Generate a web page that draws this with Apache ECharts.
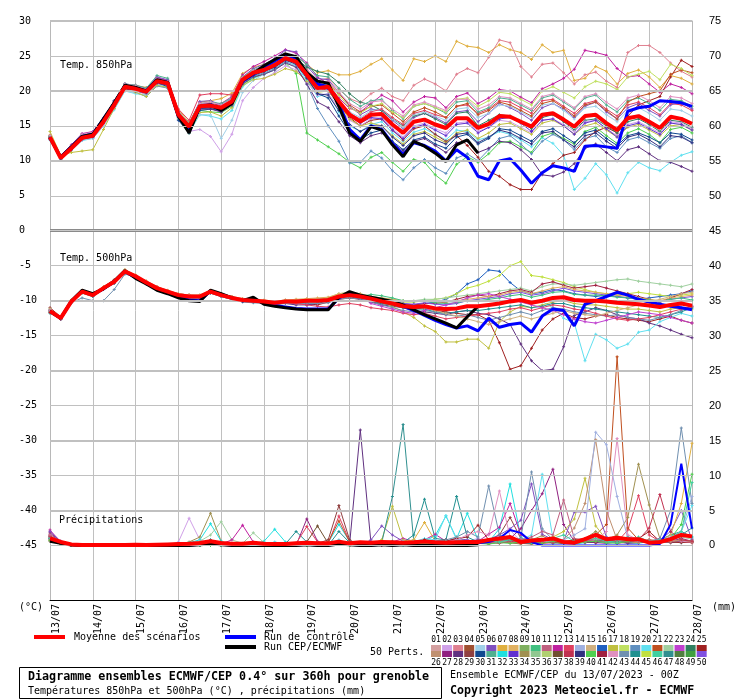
<!DOCTYPE html>
<html><head><meta charset="utf-8">
<script src="https://cdn.jsdelivr.net/npm/echarts@6/dist/echarts.min.js"></script>
<style>html,body{margin:0;padding:0;background:#fff}#c{width:740px;height:700px}</style>
</head><body><div id="c"></div>
<script>
const HOURS = [0,6,12,18,24,30,36,42,48,54,60,66,72,78,84,90,96,102,108,114,120,126,132,138,144,150,156,162,168,174,180,186,192,198,204,210,216,222,228,234,240,246,252,258,264,270,276,282,288,294,300,306,312,318,324,330,336,342,348,354,360];
const DAY_LABELS = ["13/07","14/07","15/07","16/07","17/07","18/07","19/07","20/07","21/07","22/07","23/07","24/07","25/07","26/07","27/07","28/07"];
const Y_LEFT_TICKS = [-45,-40,-35,-30,-25,-20,-15,-10,-5,0,5,10,15,20,25,30];
const Y_RIGHT_TICKS = [0,5,10,15,20,25,30,35,40,45,50,55,60,65,70,75];
const MEMBER_IDS = ["01","02","03","04","05","06","07","08","09","10","11","12","13","14","15","16","17","18","19","20","21","22","23","24","25","26","27","28","29","30","31","32","33","34","35","36","37","38","39","40","41","42","43","44","45","46","47","48","49","50"];
const PALETTE = ["#d4a0a0","#d0a0e8","#e08090","#a05030","#a0d0e8","#8050c0","#e0b040","#e0b060","#80b060","#40c080","#c06080","#c020a0","#e04060","#a0b0e0","#d0b080","#2060c0","#c0c040","#c0e060","#6090c0","#60e0f0","#c05020","#a0d0a0","#c040d0","#308060","#a02020",
"#c09070","#902080","#603080","#904040","#104890","#50b090","#20e0e0","#6030d0","#a09050","#90c890","#b0d070","#705030","#c03050","#303080","#50d050","#a02040","#e090c0","#7090b0","#209090","#c0e040","#40d0a0","#309090","#508040","#40a040","#8050e0"];

/* ---------- 850 hPa (°C) ---------- */
const T850_MEAN = [13.4,10.4,11.8,13.3,13.6,15.6,18.0,20.6,20.3,19.9,
 21.4,21.1,16.6,14.9,17.8,17.9,17.6,18.5,21.6,22.6,
 23.0,23.7,24.7,24.2,22.3,20.4,20.6,18.5,16.6,15.6,
 16.6,16.7,15.2,14.0,15.6,15.9,15.2,14.7,16.1,16.1,
 14.7,15.3,16.4,16.3,15.6,14.9,16.6,16.8,15.9,14.9,
 16.4,16.6,15.4,14.4,16.1,16.4,15.6,14.7,16.3,16.0,15.3];
const T850_CONTROL = [13.3,10.5,12.0,13.5,13.8,16.0,18.2,20.7,20.4,20.0,
 21.5,21.2,16.5,14.2,17.7,18.0,17.3,18.3,21.4,22.4,
 23.4,24.3,25.1,24.7,22.4,21.0,20.6,18.2,14.5,13.0,
 15.0,14.5,12.5,10.9,12.6,12.2,11.4,10.0,11.6,10.5,
 7.8,7.3,10.0,10.3,8.7,6.8,8.3,9.3,9.0,8.5,
 12.1,12.2,12.0,11.8,17.1,17.6,17.8,18.6,18.5,18.3,17.8];
const T850_OPER = [13.3,10.5,12.0,13.5,13.8,16.0,18.3,20.8,20.5,20.0,
 21.6,21.2,16.4,14.0,17.8,18.0,17.2,18.2,21.5,22.5,
 23.6,24.5,25.3,24.9,22.6,21.4,21.1,17.8,14.0,12.8,
 14.9,14.4,12.3,10.6,12.8,12.1,11.1,9.9,12.3,13.0,11.1];
const T850_P07 = [13.7,10.2,12.0,13.7,13.9,16.1,18.2,20.9,20.8,20.5,
 21.7,21.5,17.3,15.5,18.4,18.6,18.9,19.7,22.5,23.4,
 23.8,24.5,25.3,25.0,23.8,22.6,22.9,22.3,22.3,22.8,
 23.8,24.6,23.0,21.5,24.6,24.2,25.0,24.2,27.1,26.4,
 26.2,25.5,26.6,25.9,25.5,24.5,26.6,25.5,25.8,21.5,
 21.8,23.5,22.8,21.0,22.5,23.0,22.0,20.5,22.2,21.8,21.0];
const T850_P03 = [13.1,10.6,11.6,13.0,13.4,15.3,17.7,20.2,20.0,19.5,
 21.0,20.8,16.0,14.5,17.4,17.6,17.9,18.9,21.9,22.9,
 23.4,24.2,25.0,24.6,23.1,21.5,21.8,20.2,18.9,18.3,
 19.6,20.4,19.2,18.6,20.8,21.7,21.0,20.0,22.4,23.2,
 22.6,24.8,27.3,26.9,23.5,22.0,23.8,24.0,22.6,21.0,
 22.3,22.7,21.4,20.5,25.5,26.5,26.5,25.5,24.0,22.8,22.0];
const T850_P12 = [13.5,10.8,12.3,13.9,14.2,16.0,18.6,20.8,20.6,20.2,
 21.9,21.5,16.9,15.2,18.3,18.0,18.2,19.2,22.3,23.5,
 24.2,25.0,25.9,25.4,24.0,22.0,21.0,19.0,17.5,17.0,
 18.2,19.4,18.6,17.0,18.4,19.2,19.0,17.6,19.2,19.7,
 18.2,19.0,20.2,20.0,19.1,18.3,20.3,21.0,21.8,23.1,
 25.8,25.5,25.1,23.2,22.0,22.2,21.0,19.8,21.0,20.5,19.6];
const T850_P20 = [13.0,10.2,11.5,12.9,13.2,15.0,17.3,20.0,19.6,19.4,
 20.8,20.6,16.2,14.0,16.6,16.4,16.0,17.2,20.6,21.8,
 22.4,23.0,24.2,23.6,21.5,19.2,19.6,17.0,15.0,14.2,
 15.2,15.6,14.0,12.8,14.1,14.6,13.8,13.0,14.4,14.2,
 13.0,13.4,14.2,13.8,13.0,12.0,13.3,12.5,10.8,5.9,
 7.5,9.6,8.0,5.4,8.3,9.8,9.0,8.6,9.8,10.8,11.3];
const T850_P40 = [13.6,10.5,11.9,13.2,13.5,15.4,17.8,20.4,20.1,19.6,
 21.2,20.9,16.0,14.2,17.2,17.0,16.9,17.8,20.9,21.9,
 22.4,23.1,24.0,22.5,14.0,13.0,12.0,11.0,9.8,9.0,
 10.5,11.2,9.8,8.5,10.2,9.8,8.0,6.8,9.5,10.6,
 9.8,11.0,12.6,12.8,12.0,11.2,13.5,14.0,13.2,12.4,
 14.2,14.8,13.6,12.5,14.0,14.6,13.8,12.6,14.5,14.8,14.0];
const T850_P19 = [13.2,10.3,11.7,13.1,13.3,15.2,17.5,20.1,19.8,19.2,
 20.7,20.4,16.3,14.6,17.5,17.5,17.0,18.0,21.2,22.1,
 22.6,23.2,24.2,23.5,21.0,17.5,15.0,12.8,9.7,9.8,
 11.4,10.4,8.6,7.3,9.0,10.2,9.0,8.2,10.4,11.0,
 10.0,11.6,13.2,13.6,12.4,11.0,12.8,13.8,13.0,11.6,
 13.2,13.6,12.0,11.2,13.0,13.4,12.6,11.8,13.2,13.6,12.6];
const T850_P25 = [13.4,10.5,11.8,13.2,13.7,15.8,18.2,20.7,20.5,20.0,
 21.5,21.2,16.8,15.0,18.0,18.2,17.9,18.6,21.8,22.7,
 23.2,23.8,24.8,24.2,22.0,20.6,20.0,18.0,16.2,15.0,
 15.8,16.0,14.4,13.0,14.6,15.0,13.8,12.8,13.6,12.2,
 10.5,8.5,7.8,6.6,5.9,5.9,8.3,9.6,10.8,11.2,
 13.0,14.2,14.8,14.0,16.4,18.0,18.6,19.2,22.0,24.4,23.5];
const T850_P06 = [13.5,10.6,12.2,13.8,14.1,16.2,18.5,21.0,20.8,20.4,
 22.0,21.6,17.0,15.3,18.5,18.6,18.0,18.9,22.0,23.2,
 23.8,24.6,25.8,25.6,23.6,21.8,21.6,19.8,17.8,16.6,
 17.4,17.2,15.8,14.6,16.2,16.8,16.2,15.4,17.0,17.2,
 15.6,16.8,18.2,17.6,16.8,15.8,17.6,18.2,17.4,16.2,
 17.8,18.4,17.0,16.0,17.6,18.2,17.2,16.4,18.0,18.4,17.4];
const T850_P24 = [13.2,10.4,11.7,13.2,13.5,15.5,17.9,20.5,20.2,19.8,
 21.3,21.0,16.7,15.1,17.9,18.0,17.8,18.7,21.7,22.8,
 23.2,24.0,24.8,24.6,23.4,22.8,22.4,21.2,19.6,18.4,
 18.0,17.2,16.0,15.0,16.4,16.8,16.0,15.2,16.8,17.0,
 15.0,15.8,16.6,16.4,15.6,14.6,16.2,16.6,15.6,14.4,
 15.8,16.0,15.0,14.0,15.6,16.0,15.2,14.2,15.8,15.6,14.8];
const T850_P02 = [13.3,10.3,11.6,13.0,13.3,15.2,17.6,20.3,20.0,19.6,
 21.0,20.8,15.8,14.2,14.5,13.5,11.3,13.8,18.6,20.5,
 21.8,22.6,23.6,23.0,21.2,19.4,19.6,17.6,15.8,15.0,
 16.0,16.2,14.6,13.4,15.0,15.4,14.6,14.0,15.4,15.6,
 14.2,14.8,15.8,15.6,14.8,14.0,15.8,16.0,15.2,14.2,
 15.6,15.8,14.6,13.6,15.2,15.6,14.8,14.0,15.6,15.4,14.6];
const T850_P05 = [13.1,10.3,11.6,13.0,13.2,15.0,17.4,20.0,19.7,19.3,
 20.9,20.6,16.0,14.6,16.6,16.6,13.2,15.8,19.8,21.5,
 22.4,23.0,24.0,23.6,22.0,20.2,20.4,18.6,17.0,16.2,
 17.2,17.4,16.0,14.8,16.6,17.0,16.4,15.8,17.4,17.6,
 16.2,16.8,18.0,17.8,17.0,16.2,18.0,18.2,17.2,16.0,
 17.6,17.8,16.6,15.6,17.2,17.6,16.8,15.8,17.4,17.2,16.4];
const T850_P13 = [13.6,10.6,12.0,13.6,14.0,15.9,18.3,20.8,20.4,20.0,
 21.5,21.2,17.4,15.8,19.4,19.6,19.6,19.4,22.0,22.9,
 23.2,23.8,24.6,24.0,22.0,20.0,20.4,18.4,16.8,16.0,
 17.0,17.4,16.2,15.2,16.8,17.2,16.6,16.2,17.8,18.0,
 16.8,17.4,18.6,18.4,17.6,16.8,18.6,18.8,17.8,16.8,
 18.2,18.6,17.4,16.4,18.0,18.4,17.6,16.6,18.2,18.0,17.2];
const T850_P17 = [14.2,10.8,11.2,11.4,11.6,14.5,17.5,20.2,19.8,19.2,
 20.8,20.5,16.2,14.0,16.9,17.0,16.4,17.6,20.8,21.6,
 21.8,22.4,23.2,22.8,21.4,19.8,20.0,18.0,16.0,15.0,
 15.4,15.0,13.6,12.4,13.8,14.2,13.4,12.6,14.0,14.4,
 13.2,14.0,15.2,15.4,14.6,13.8,15.4,15.8,15.0,13.8,
 15.0,15.4,14.4,13.4,14.8,15.2,14.4,13.6,15.0,15.2,14.4];
const T850_P30 = [13.4,10.4,11.9,13.4,13.8,16.0,18.6,21.0,20.6,20.0,
 21.2,20.6,15.8,14.0,17.2,17.4,17.2,18.2,21.2,22.2,
 22.8,23.4,24.4,24.0,22.0,19.6,19.0,16.4,14.0,13.0,
 14.0,14.4,12.8,11.6,13.0,13.4,12.4,11.8,13.4,13.8,
 12.4,13.2,14.6,14.4,13.6,12.8,14.2,14.6,13.6,12.6,
 14.0,14.4,13.2,12.2,13.6,14.0,13.4,12.6,14.0,13.8,13.0];
const T850_P31 = [13.5,10.5,12.1,13.7,14.0,15.9,18.4,21.0,20.8,20.4,
 22.2,21.8,17.0,15.4,18.2,18.4,18.2,19.0,22.0,23.0,
 23.6,24.2,25.2,25.0,23.8,22.2,22.0,20.4,18.8,17.8,
 18.6,18.8,17.2,16.0,17.8,18.2,17.6,16.8,18.4,18.6,
 17.0,17.6,19.0,18.8,18.0,17.2,19.0,19.4,18.4,17.4,
 19.0,19.4,18.0,17.0,18.6,19.0,18.2,17.2,18.8,18.6,17.8];
const T850_P33 = [13.2,10.3,11.8,13.4,13.7,15.7,18.1,20.7,20.4,20.1,
 21.6,21.4,17.0,15.2,18.0,18.2,17.8,18.6,21.6,22.6,
 23.0,23.6,24.6,24.4,22.8,20.8,20.2,18.2,16.4,15.4,
 16.2,16.0,14.4,13.2,14.8,15.2,14.4,13.6,15.2,15.4,
 14.0,14.8,16.0,16.2,15.4,14.2,15.8,16.0,15.0,13.8,
 15.4,15.8,14.6,13.4,15.0,15.4,14.6,13.8,15.4,15.2,14.4];
const T850_P21 = [13.3,10.4,11.8,13.3,13.6,15.6,18.0,20.6,20.3,19.9,
 21.4,21.0,16.4,14.8,17.6,17.6,17.4,18.4,21.6,22.6,
 23.0,23.8,24.8,24.4,22.8,21.2,21.2,19.6,18.0,17.0,
 17.8,18.0,16.8,15.6,17.0,17.6,17.0,16.2,17.8,18.2,
 16.6,17.2,18.4,18.0,17.2,16.4,18.2,18.6,17.6,16.4,
 18.0,18.4,17.2,16.0,18.4,19.2,19.6,20.0,22.4,23.0,22.6];
const T850_P18 = [13.4,10.4,11.9,13.5,13.8,15.8,18.2,20.8,20.5,20.1,
 21.6,21.3,16.8,15.1,18.0,18.1,17.8,18.8,21.8,22.8,
 23.2,23.8,24.8,24.4,22.6,20.8,21.0,19.4,17.6,16.8,
 17.8,18.2,17.0,16.2,17.8,18.2,17.6,17.0,18.8,19.0,
 17.8,18.6,19.8,19.6,18.8,18.0,20.0,20.6,19.8,19.0,
 20.6,21.4,21.0,20.2,22.0,22.4,22.8,21.6,23.8,23.2,22.2];
const T850_P28 = [13.1,10.3,11.6,13.1,13.4,15.4,17.8,20.3,20.0,19.7,
 21.1,20.8,16.2,14.4,17.4,17.4,17.0,18.0,21.0,22.0,
 22.4,23.0,24.0,23.4,21.0,18.4,17.6,15.6,13.6,12.6,
 13.6,14.0,12.6,11.4,12.8,13.2,12.2,11.2,12.6,12.8,
 11.2,11.8,12.8,12.6,11.6,10.2,8.0,7.8,8.4,9.6,
 11.8,12.4,11.2,10.0,11.6,12.0,11.0,10.0,9.8,9.2,8.5];
const T850_P42 = [13.6,10.7,12.2,13.8,14.1,16.2,18.4,21.0,20.7,20.2,
 21.7,21.3,16.9,15.3,18.2,18.4,18.0,18.8,21.9,22.9,
 23.4,24.2,25.0,24.6,22.8,21.2,21.4,19.8,18.2,17.4,
 18.4,18.6,17.4,16.4,18.0,18.4,17.8,17.2,18.8,18.8,
 17.4,18.0,19.2,19.0,18.2,17.4,19.2,19.6,18.6,17.6,
 19.2,19.6,18.4,17.4,19.0,19.4,18.6,17.6,19.2,19.0,18.2];
const T850_P39 = [13.3,10.4,11.7,13.2,13.5,15.5,17.9,20.4,20.1,19.8,
 21.2,20.9,16.4,14.7,17.5,17.6,17.3,18.2,21.3,22.3,
 22.8,23.4,24.4,23.8,21.8,19.6,19.4,17.2,15.2,14.2,
 15.0,15.0,13.4,12.2,13.6,14.0,13.0,12.4,13.8,14.0,
 12.6,13.4,14.4,14.0,13.2,12.4,14.0,14.2,13.0,12.0,
 13.6,14.0,12.8,11.8,13.4,13.8,13.0,12.0,13.6,13.4,12.6];

/* ---------- 500 hPa (°C) ---------- */
const T500_MEAN = [-11.5,-12.5,-10.1,-8.7,-9.2,-8.2,-7.3,-5.8,-6.5,-7.4,
 -8.2,-8.7,-9.2,-9.4,-9.4,-8.7,-9.2,-9.6,-9.9,-10.0,
 -10.1,-10.3,-10.1,-10.1,-10.0,-10.0,-9.9,-9.4,-9.2,-9.4,
 -9.7,-10.1,-10.4,-10.8,-10.9,-10.8,-11.1,-11.2,-11.1,-10.8,
 -10.8,-10.6,-10.4,-10.1,-9.9,-10.3,-10.0,-9.6,-9.5,-9.9,
 -10.0,-10.0,-10.1,-10.3,-10.4,-10.5,-10.7,-10.9,-10.6,-10.4,-10.7];
const T500_CONTROL = [-11.5,-12.5,-10.1,-8.6,-9.1,-8.3,-7.3,-5.8,-6.7,-7.5,
 -8.4,-8.9,-9.5,-9.9,-10.0,-8.6,-9.1,-9.6,-10.0,-9.7,
 -10.4,-10.7,-10.9,-11.1,-11.2,-11.2,-11.2,-9.6,-8.9,-9.3,
 -9.6,-9.9,-10.2,-10.8,-11.4,-12.1,-12.8,-13.4,-13.9,-13.6,
 -14.3,-12.5,-13.8,-13.4,-13.2,-14.5,-12.2,-11.2,-11.4,-13.6,
 -10.5,-10.0,-9.4,-8.8,-9.2,-9.8,-10.2,-10.5,-10.8,-11.0,-11.3];
const T500_OPER = [-11.5,-12.5,-10.0,-8.5,-9.0,-8.3,-7.2,-5.7,-6.8,-7.6,
 -8.5,-9.0,-9.6,-10.0,-10.1,-8.5,-9.0,-9.6,-10.0,-9.5,
 -10.5,-10.8,-11.0,-11.2,-11.3,-11.3,-11.3,-9.5,-8.7,-9.2,
 -9.5,-9.8,-10.1,-10.6,-11.3,-12.0,-12.6,-13.2,-13.9,-12.3,-10.8];
const T500_P25 = [-11.0,-12.3,-10.0,-8.8,-9.0,-8.0,-7.0,-5.6,-6.4,-7.2,
 -8.0,-8.6,-9.0,-9.2,-9.3,-8.6,-9.0,-9.4,-9.8,-9.9,
 -10.0,-10.2,-10.0,-10.2,-10.4,-10.6,-10.2,-9.8,-9.6,-9.8,
 -10.2,-10.4,-10.6,-10.8,-11.2,-11.0,-11.4,-11.6,-11.8,-12.0,
 -12.0,-12.8,-16.0,-19.8,-19.3,-16.8,-14.2,-12.6,-11.8,-12.4,
 -12.6,-12.2,-12.0,-12.4,-12.6,-12.8,-13.0,-12.6,-12.2,-12.8,-13.2];
const T500_P28 = [-11.6,-12.7,-10.3,-8.8,-9.3,-8.4,-7.5,-6.0,-6.6,-7.5,
 -8.3,-8.8,-9.4,-9.6,-9.6,-8.9,-9.4,-9.8,-10.1,-10.2,
 -10.3,-10.4,-10.4,-10.6,-10.6,-10.4,-10.0,-9.6,-9.4,-9.8,
 -10.2,-10.6,-10.8,-11.0,-11.4,-11.6,-11.8,-12.0,-11.6,-11.4,
 -11.8,-12.0,-12.6,-13.4,-16.2,-18.6,-20.0,-19.8,-16.6,-12.1,
 -11.6,-11.0,-11.4,-12.0,-12.4,-12.6,-13.2,-13.6,-14.2,-14.8,-15.3];
const T500_P20 = [-11.2,-12.4,-10.2,-8.9,-9.4,-8.4,-7.4,-6.0,-6.6,-7.5,
 -8.3,-8.8,-9.3,-9.5,-9.5,-8.8,-9.3,-9.7,-10.0,-10.1,
 -10.2,-10.4,-10.2,-10.2,-10.1,-10.1,-10.0,-9.5,-9.3,-9.5,
 -10.0,-10.2,-10.5,-10.9,-11.0,-10.9,-11.2,-11.3,-11.2,-10.9,
 -10.9,-10.7,-10.5,-10.2,-10.0,-10.4,-10.1,-11.0,-12.5,-13.2,
 -18.6,-14.8,-15.6,-16.8,-16.2,-14.5,-14.2,-13.0,-12.4,-11.8,-12.2];
const T500_P17 = [-11.4,-12.5,-10.0,-8.6,-9.1,-8.2,-7.2,-5.7,-6.4,-7.3,
 -8.1,-8.6,-9.1,-9.3,-9.3,-8.6,-9.1,-9.5,-9.8,-9.9,
 -10.0,-10.2,-10.0,-10.0,-9.9,-9.9,-9.8,-9.3,-9.1,-9.3,
 -9.8,-10.2,-10.8,-11.6,-12.4,-13.6,-14.4,-15.9,-15.9,-15.5,
 -15.5,-16.8,-13.0,-11.6,-10.8,-11.0,-10.6,-10.2,-10.0,-10.4,
 -10.6,-10.6,-10.8,-11.0,-11.2,-11.2,-11.4,-11.6,-11.2,-11.0,-11.2];
const T500_P16 = [-11.6,-12.6,-10.2,-8.8,-9.3,-8.3,-7.4,-5.9,-6.6,-7.5,
 -8.3,-8.8,-9.3,-9.5,-9.5,-8.8,-9.3,-9.7,-10.0,-10.1,
 -10.2,-10.4,-10.2,-10.2,-10.0,-10.0,-9.9,-9.4,-9.2,-9.4,
 -9.8,-10.0,-10.2,-10.4,-10.6,-10.4,-10.2,-9.8,-9.0,-7.6,
 -7.0,-5.6,-5.8,-7.4,-8.6,-9.0,-8.8,-8.4,-8.6,-9.0,
 -9.2,-9.4,-9.2,-9.4,-9.6,-9.8,-9.6,-9.4,-9.2,-9.0,-8.6];
const T500_P45 = [-11.3,-12.4,-10.0,-8.6,-9.1,-8.1,-7.2,-5.6,-6.4,-7.2,
 -8.1,-8.6,-9.1,-9.3,-9.3,-8.6,-9.1,-9.5,-9.8,-9.9,
 -10.0,-10.2,-10.0,-10.0,-9.9,-9.8,-9.6,-9.2,-9.0,-9.2,
 -9.6,-9.8,-10.0,-10.2,-10.2,-10.0,-9.8,-9.6,-9.0,-8.2,
 -7.8,-7.2,-6.4,-5.0,-4.4,-6.4,-6.6,-7.0,-7.4,-8.0,
 -8.4,-8.8,-9.0,-9.2,-9.0,-8.8,-9.0,-9.2,-9.4,-9.2,-9.0];
const T500_P22 = [-11.5,-12.4,-10.1,-8.7,-9.2,-8.2,-7.3,-5.8,-6.5,-7.4,
 -8.2,-8.7,-9.1,-9.3,-9.3,-8.6,-9.1,-9.5,-9.8,-9.9,
 -10.0,-10.1,-9.9,-9.9,-9.8,-9.7,-9.6,-9.0,-8.8,-9.0,
 -9.4,-9.6,-9.8,-10.0,-10.0,-9.8,-9.8,-9.6,-9.4,-9.2,
 -9.0,-8.8,-8.6,-8.4,-8.2,-8.6,-8.0,-7.6,-7.6,-7.8,
 -7.6,-7.4,-7.2,-7.0,-6.9,-7.2,-7.4,-7.6,-7.8,-8.0,-7.6];
const T500_P41 = [-11.6,-12.6,-10.2,-8.8,-9.3,-8.3,-7.4,-5.9,-6.6,-7.5,
 -8.3,-8.8,-9.3,-9.5,-9.5,-8.8,-9.2,-9.7,-10.0,-10.0,
 -10.1,-10.3,-10.1,-10.1,-10.0,-9.9,-9.8,-9.4,-9.2,-9.4,
 -9.8,-10.0,-10.2,-10.5,-10.6,-10.4,-10.4,-10.2,-9.8,-9.4,
 -9.2,-9.4,-9.0,-8.6,-8.4,-8.8,-7.6,-7.3,-7.8,-8.2,
 -8.0,-7.8,-8.2,-8.6,-9.0,-9.4,-9.8,-10.2,-9.6,-9.0,-8.4];
const T500_P44 = [-11.8,-12.6,-10.3,-8.9,-9.4,-8.4,-7.5,-6.0,-6.7,-7.6,
 -8.4,-8.9,-9.4,-9.6,-9.6,-8.9,-9.4,-9.8,-10.1,-10.2,
 -10.3,-10.5,-10.3,-10.3,-10.2,-10.2,-10.1,-9.6,-9.4,-9.6,
 -10.0,-10.4,-10.6,-11.0,-11.2,-11.2,-11.6,-11.8,-11.6,-11.4,
 -11.4,-11.2,-11.0,-10.8,-10.6,-11.0,-10.8,-10.4,-10.4,-10.8,
 -11.0,-11.2,-11.4,-11.6,-11.8,-12.0,-12.2,-12.4,-12.0,-11.6,-11.0];
const T500_P50 = [-11.3,-12.3,-10.0,-8.6,-9.1,-8.1,-7.2,-5.7,-6.4,-7.3,
 -8.1,-8.6,-9.1,-9.3,-9.3,-8.6,-9.1,-9.5,-9.8,-9.9,
 -10.0,-10.2,-10.0,-10.0,-9.9,-9.9,-9.8,-9.3,-9.1,-9.3,
 -9.7,-9.9,-10.1,-10.4,-10.5,-10.3,-10.5,-10.6,-10.4,-10.0,
 -9.8,-9.6,-9.4,-9.0,-8.8,-9.2,-9.0,-8.6,-8.2,-8.6,
 -8.8,-9.0,-9.2,-9.4,-9.6,-9.8,-10.0,-10.2,-9.8,-9.6,-9.4];
const T500_P43 = [-11.4,-12.4,-10.3,-9.6,-10.0,-10.0,-8.4,-6.2,-6.6,-7.6,
 -8.4,-8.9,-9.4,-9.6,-9.6,-8.9,-9.4,-9.8,-10.2,-10.3,
 -10.4,-10.6,-10.4,-10.4,-10.4,-10.4,-10.3,-9.8,-9.6,-9.8,
 -10.2,-10.6,-11.0,-11.4,-11.6,-11.4,-11.6,-12.0,-12.2,-12.0,
 -12.4,-12.8,-12.4,-12.0,-11.6,-12.0,-11.4,-11.0,-11.2,-11.6,
 -11.8,-12.0,-12.2,-12.0,-12.4,-12.6,-12.8,-12.4,-12.0,-11.4,-10.8];
const T500_P13 = [-11.7,-12.6,-10.2,-8.8,-9.3,-8.3,-7.4,-5.9,-6.6,-7.5,
 -8.3,-8.8,-9.3,-9.5,-9.5,-8.8,-9.3,-9.7,-10.0,-10.1,
 -10.2,-10.4,-10.2,-10.4,-10.6,-10.8,-10.9,-10.6,-10.4,-10.6,
 -11.0,-11.2,-11.4,-11.8,-12.0,-11.8,-12.2,-12.6,-12.4,-12.2,
 -12.0,-11.8,-11.6,-11.2,-11.0,-11.4,-11.0,-10.6,-10.8,-11.2,
 -11.4,-11.8,-12.2,-12.6,-12.8,-12.6,-12.4,-12.0,-11.6,-11.2,-10.8];
const T500_P08 = [-11.2,-12.3,-9.9,-8.5,-9.0,-8.0,-7.1,-5.6,-6.3,-7.2,
 -8.0,-8.5,-9.0,-9.2,-9.2,-8.5,-9.0,-9.4,-9.7,-9.8,
 -9.9,-10.1,-9.9,-9.8,-9.7,-9.6,-9.5,-9.0,-8.8,-9.0,
 -9.4,-9.6,-9.8,-10.0,-10.1,-10.0,-10.2,-10.2,-10.0,-9.8,
 -9.6,-9.4,-9.2,-8.8,-8.6,-9.0,-8.6,-8.2,-8.0,-8.4,
 -8.6,-8.8,-9.0,-9.2,-9.4,-9.6,-9.8,-10.0,-9.6,-9.4,-9.2];
const T500_P10 = [-11.6,-12.5,-10.1,-8.7,-9.2,-8.2,-7.3,-5.8,-6.5,-7.4,
 -8.2,-8.7,-9.2,-9.4,-9.4,-8.7,-9.2,-9.6,-9.9,-10.0,
 -10.1,-10.3,-10.1,-10.1,-10.0,-10.0,-9.9,-9.4,-9.2,-9.4,
 -9.1,-9.3,-9.6,-10.0,-10.1,-10.0,-10.3,-10.4,-10.3,-10.0,
 -10.0,-9.8,-9.6,-9.3,-9.1,-9.5,-9.2,-8.8,-8.7,-9.1,
 -9.2,-9.2,-9.3,-9.5,-9.6,-9.7,-9.9,-10.1,-9.8,-9.6,-9.9];
const T500_P23 = [-11.4,-12.4,-10.1,-8.7,-9.2,-8.2,-7.3,-5.8,-6.5,-7.4,
 -8.2,-8.7,-9.2,-9.4,-9.4,-8.7,-9.2,-9.6,-9.9,-10.0,
 -10.1,-10.3,-10.1,-10.1,-10.0,-10.0,-9.9,-9.4,-9.2,-9.4,
 -10.4,-10.8,-11.2,-11.6,-11.8,-11.4,-11.0,-10.6,-10.2,-9.6,
 -9.2,-9.0,-9.4,-9.8,-10.2,-10.6,-11.0,-11.4,-12.0,-12.6,
 -13.0,-13.2,-12.8,-12.4,-12.0,-11.6,-11.8,-12.0,-12.4,-12.8,-13.2];
const T500_P15 = [-11.5,-12.5,-10.0,-8.6,-9.1,-8.1,-7.2,-5.7,-6.4,-7.3,
 -8.1,-8.6,-9.0,-9.2,-9.2,-8.6,-9.1,-9.5,-9.8,-9.9,
 -10.0,-10.2,-10.0,-10.0,-9.9,-9.9,-9.8,-9.3,-9.1,-9.3,
 -9.8,-10.0,-10.2,-10.6,-10.8,-11.0,-11.4,-11.8,-12.2,-12.6,
 -13.0,-13.4,-13.0,-12.6,-12.2,-12.6,-12.2,-11.8,-11.4,-11.8,
 -12.0,-12.2,-11.8,-11.4,-11.0,-10.6,-10.2,-9.8,-9.4,-9.0,-8.8];

/* ---------- Precipitation (mm) ---------- */
const PR_MEAN = [1.0,0.5,0.15,0.05,0.05,0.05,0.05,0.05,0.1,0.05,
 0.1,0.15,0.2,0.25,0.35,0.6,0.35,0.25,0.25,0.4,
 0.25,0.2,0.2,0.3,0.4,0.3,0.3,0.55,0.3,0.45,
 0.4,0.5,0.45,0.4,0.45,0.55,0.45,0.4,0.45,0.5,
 0.5,0.8,1.0,1.2,0.5,0.7,0.8,1.0,0.5,0.4,
 0.9,1.5,0.9,1.1,0.9,0.9,0.4,0.5,0.9,1.5,1.3];
const PR_CONTROL = [0.7,0.3,0.05,0,0,0,0,0,0,0,
 0,0,0,0,0.1,0.2,0.1,0,0,0,
 0,0,0,0,0.1,0,0,0.2,0.1,0,
 0,0.1,0,0.1,0,0,0,0.3,0.2,0.5,
 0.3,0.5,1.0,2.2,1.8,0.5,0,0,0,0,
 0,0,0,0,0,0,0,0.2,3.0,11.7,2.4];
const PR_OPER = [0.6,0.3,0.05,0,0,0,0,0,0,0,
 0,0,0,0,0.1,0.2,0.1,0,0,0,
 0,0,0,0,0.1,0,0,0.2,0.1,0,
 0,0.1,0,0.1,0,0,0,0,0,0,0.1];
const PR_P02 = [1.5,0.4,0,0,0,0,0,0,0,0, 0,0,0.5,3.9,0.8,0.3,0.2,0,0,0, 0,0,0,0,0.3,0.2,0,0.5,0.2,0, 0,0.2,0.4,0.3,0.2,0.5,0.8,0.4,0.2,0.6, 1.0,0.5,1.2,2.2,0.6,0.4,0.8,0.5,0.3,0.2, 0.5,1.0,0.8,0.6,0.5,0.8,0.3,0.4,0.6,1.5,1.0];
const PR_P34 = [0.8,0.3,0,0,0,0,0,0,0,0, 0,0,0.2,0.5,1.2,4.6,0.6,0,0,0, 0,0,0,0,0,0.3,0,0.3,0.1,0, 0,0,0.5,0.2,0,0.4,0.2,0,0,0.3, 0.5,0.2,0.6,0.4,0.2,0.8,1.4,0.5,0.3,0.6, 1.0,2.0,0.8,1.5,4.0,11.6,5.8,1.0,0.5,0.8,0.4];
const PR_P32 = [1.2,0.5,0,0,0,0,0,0,0,0, 0,0,0.3,0.4,0.8,3.1,0.6,0,0,0.2, 0.6,2.3,0.5,0,0,0,0.4,3.0,0.6,0.2, 0.3,0.5,0.2,0,0.3,0.6,1.4,4.2,1.0,4.6, 0.8,0.5,2.4,8.8,1.2,0.4,0.6,0.3,0.5,0.2, 0.4,0.6,0.3,0.5,0.4,0.3,0.6,0.8,0.5,0.4,0.6];
const PR_P22 = [1.0,0.3,0,0,0,0,0,0,0,0, 0,0,0.2,0.3,0.6,1.5,3.4,0.8,0.3,1.8, 0.4,0,0,0,0.2,0,0,0.2,0.3,0, 0,0.3,0.2,0.5,0.8,0.4,0.3,0.5,1.2,0.6, 0.4,0.3,0.6,0.8,0.5,1.0,0.6,0.8,0.4,0.3, 0.5,0.8,1.2,0.6,0.4,0.9,0.5,0.6,0.8,1.2,0.9];
const PR_P12 = [2.2,0.5,0,0,0,0,0,0,0,0, 0,0,0,0,0.2,0.3,0.2,0.8,2.9,0.5, 0.2,0,0,0.2,0.4,0.3,0,0.5,0.2,0, 0.3,0.2,0.5,1.0,0.6,0.8,1.6,0.6,0.8,0.4, 0.6,1.6,2.6,6.0,1.5,0.8,0.4,0.6,0.3,0.5, 0.6,0.4,0.3,0.5,0.8,0.6,0.4,1.0,0.6,0.8,0.5];
const PR_P44 = [0.9,0.3,0,0,0,0,0,0,0,0, 0,0,0,0.2,0.3,0.8,0.2,0,0,0, 0,0,0.2,2.0,0.5,0,0,2.0,0.4,0, 0.2,0.3,0.6,0.4,1.5,6.6,1.0,0.8,7.0,1.2, 0.5,0.3,0.8,1.2,0.6,0.4,0.8,0.5,0.6,0.4, 0.8,0.6,0.4,0.5,1.2,0.8,0.6,0.8,1.5,2.0,1.2];
const PR_P27 = [1.8,0.6,0,0,0,0,0,0,0,0, 0,0,0,0,0.2,0.5,0.2,0,0,0, 0,0,0,0,3.8,0.6,0,0.5,0.2,0, 0,0,0.3,0.5,0.2,0.4,0.6,0.8,0.3,0.5, 0.8,0.4,0.6,1.0,2.4,5.0,7.4,10.9,3.0,0.6, 0.4,0.6,0.8,0.3,0.5,0.6,0.8,0.4,0.6,1.0,0.6];
const PR_P13 = [1.4,0.4,0,0,0,0,0,0,0,0, 0,0,0,0.2,0.3,0.6,0.3,0,0,0, 0,0,0,0.3,2.7,0.5,0.3,4.2,0.6,0, 0,0.2,0.4,0.3,0.2,0.5,0.4,0.3,0.6,0.4, 0.3,0.5,0.8,1.2,0.6,0.5,0.6,0.4,0.5,0.3, 0.6,1.0,0.8,0.5,2.2,7.1,1.5,0.6,0.8,0.5,0.4];
const PR_P37 = [0.6,0.2,0,0,0,0,0,0,0,0, 0,0,0,0,0.2,0.4,0,0,0,0, 0,0,0,0,0.5,2.8,0.3,0.4,0,0, 0,0.2,0.3,0.2,0.4,0.3,0.6,0.8,0.5,0.3, 0.4,0.3,0.5,0.4,0.3,0.6,0.5,0.4,0.3,0.5, 0.8,0.6,0.4,0.5,0.8,0.6,0.5,0.6,0.4,0.8,0.6];
const PR_P29 = [1.6,0.5,0,0,0,0,0,0,0,0, 0,0,0,0,0.2,0.3,0,0,0,0, 0,0,0,0,0.5,0.3,0.8,5.7,0.8,0, 0,0.3,0.5,0.4,0.3,0.6,0.5,0.4,0.8,0.6, 0.5,0.8,1.5,4.0,1.0,0.5,0.4,0.6,0.3,0.5, 0.6,0.4,0.8,0.5,0.6,0.8,0.4,0.5,0.6,0.8,0.5];
const PR_P21 = [1.3,0.4,0,0,0,0,0,0,0,0, 0,0,0,0,0,0.3,0,0,0,0, 0,0,0,0,0.3,0.2,0.5,3.5,0.5,0, 0,0.2,0.3,0.2,0.4,0.3,0.2,0.4,0.3,0.2, 0.3,0.5,0.4,0.6,0.3,0.2,0.4,0.5,0.6,0.8, 1.0,1.5,3.0,27.0,2.5,0.8,0.6,0.4,0.8,0.6,0.5];
const PR_P28 = [1.0,0.3,0,0,0,0,0,0,0,0, 0,0,0,0,0,0.2,0,0,0,0, 0,0,0,0,0.2,0,0,0.3,0.2,16.5, 0.3,0.5,0.4,0.3,0.2,0.5,0.3,0.4,0.2,0.3, 0.4,0.3,0.5,0.6,0.4,0.3,0.5,0.8,0.4,0.3, 0.5,0.4,0.6,0.5,0.3,0.4,0.6,0.5,0.4,0.6,0.5];
const PR_P06 = [2.0,0.6,0,0,0,0,0,0,0,0, 0,0,0,0,0,0.2,0.3,0,0,0, 0,0,0,0,0.2,0.3,0,0.4,0.3,0, 0.8,2.8,1.5,0.6,0.3,0.5,0.4,0.6,1.0,0.8, 0.5,0.8,1.5,2.4,3.6,8.8,1.6,0.8,0.6,4.8, 4.8,5.6,1.2,0.8,0.6,1.0,0.5,0.8,2.0,5.0,0.8];
const PR_P17 = [0.8,0.3,0,0,0,0,0,0,0,0, 0,0,0,0,0.3,0.5,0.2,0,0,0, 0,0,0,0,0,0.2,0,0.3,0,0, 0.2,0.8,5.6,0.8,0.4,0.3,0.5,0.6,0.3,0.5, 0.6,0.4,0.8,1.0,0.6,0.5,0.8,1.2,2.0,3.8, 9.6,2.8,0.8,0.5,0.6,0.4,0.8,0.6,0.5,0.8,0.6];
const PR_P47 = [1.1,0.4,0,0,0,0,0,0,0,0, 0,0,0,0,0.2,0.3,0,0,0,0, 0,0,0,0,0.2,0,0,0.5,0.3,0, 0.2,0.4,7.0,17.3,0.5,0.8,0.4,0.6,0.5,0.3, 0.4,0.6,0.5,0.8,0.4,0.3,0.6,0.5,0.4,0.6, 0.5,0.8,0.6,0.4,0.5,0.6,0.4,0.5,1.0,1.5,2.5];
const PR_P07 = [0.7,0.2,0,0,0,0,0,0,0,0, 0,0,0,0,0,0.2,0,0,0,0, 0,0,0,0,0,0,0,0.3,0,0, 0,0.3,0.2,0.5,0.8,3.3,0.6,0.4,0.3,0.5, 0.4,0.3,0.6,0.5,0.4,0.8,0.5,0.6,0.4,0.5, 0.6,0.8,0.5,0.4,0.6,0.5,0.8,0.6,1.5,6.0,14.6];
const PR_P20 = [1.2,0.4,0,0,0,0,0,0,0,0, 0,0,0,0,0.2,0.3,0,0,0,0, 0,0.5,0.2,0,0,0.3,0.2,0.8,0.2,0, 0.2,0.3,0.4,0.6,0.5,1.0,0.8,4.3,0.8,0.6, 0.4,0.6,1.0,1.2,0.8,1.5,10.2,1.0,0.6,0.5, 0.8,0.6,0.4,0.5,0.8,0.6,0.5,0.6,1.0,2.0,5.7];
const PR_P25 = [1.3,0.4,0,0,0,0,0,0,0,0, 0,0,0,0,0,0.2,0,0,0,0, 0,0,0,0,0,0.2,0,0.5,0,0, 0.2,0.3,0.2,0.4,0.3,0.8,0.5,0.6,1.0,1.2, 2.9,0.8,0.5,0.6,0.4,0.8,0.5,0.6,0.4,0.8, 0.5,0.6,0.8,0.5,0.6,1.0,2.0,0.6,0.5,0.4,0.6];
const PR_P43 = [1.0,0.3,0,0,0,0,0,0,0,0, 0,0,0,0,0.3,0.2,0,0,0,0, 0,0,0,0,0,0.3,0,0.3,0.2,0, 0.3,0.2,0.4,0.3,0.2,0.4,0.6,0.8,1.2,2.0, 1.2,8.5,1.5,0.8,1.0,10.5,2.4,0.8,0.6,0.5, 0.6,0.8,0.5,0.4,0.6,0.8,0.6,1.0,5.0,16.8,6.0];
const PR_P42 = [1.5,0.4,0,0,0,0,0,0,0,0, 0,0,0,0,0,0.3,0,0,0,0, 0,0,0,0,0.2,0,0,0.5,0.2,0, 0.2,0.3,0.2,0.5,0.4,0.3,0.6,0.5,0.8,1.5, 2.0,1.5,7.8,1.2,0.8,0.6,0.5,0.8,0.6,0.4, 0.5,0.8,2.0,15.3,1.5,0.8,0.6,0.5,0.8,0.6,0.5];
const PR_P11 = [1.4,0.5,0,0,0,0,0,0,0,0, 0,0,0,0,0,0.2,0,0,0,0, 0,0,0,0,0.2,0,0,0.4,0,0, 0,0.2,0.3,0.2,0.4,0.3,0.5,0.4,0.6,0.5, 0.4,0.6,0.8,0.5,0.8,1.2,2.0,1.5,6.5,1.0, 0.8,0.6,0.5,0.8,0.6,0.5,0.8,0.6,0.5,0.8,0.6];
const PR_P26 = [0.9,0.3,0,0,0,0,0,0,0,0, 0,0,0,0,0,0.2,0,0,0,0, 0,0,0,0,0,0,0,0.3,0,0, 0,0.2,0.3,0.2,0.4,0.3,0.2,0.5,0.4,0.3, 0.5,0.4,0.6,0.5,0.3,0.6,0.8,0.5,0.8,2.5, 6.0,15.1,5.0,0.8,0.6,0.8,0.5,0.4,0.6,0.8,0.5];
const PR_P14 = [0.8,0.3,0,0,0,0,0,0,0,0, 0,0,0,0,0,0.2,0,0,0,0, 0,0,0,0,0,0.2,0,0.3,0,0, 0,0.2,0.3,0.5,0.3,0.4,0.6,0.5,0.4,0.3, 0.6,0.5,0.4,0.6,0.5,0.8,0.6,0.5,0.8,1.5, 2.4,16.2,14.4,7.0,1.0,0.8,0.6,0.8,1.2,2.0,7.0];
const PR_P38 = [1.1,0.4,0,0,0,0,0,0,0,0, 0,0,0,0,0,0.2,0,0,0,0, 0,0,0,0,0.3,0,0,0.4,0,0, 0,0.2,0.3,0.2,0.3,0.4,0.3,0.2,0.4,0.3, 0.5,0.4,0.3,0.6,0.4,0.5,0.3,0.4,0.6,0.5, 0.6,0.5,0.8,0.6,0.5,0.8,2.5,7.3,2.0,0.8,0.6];
const PR_P40 = [0.7,0.2,0,0,0,0,0,0,0,0, 0,0,0,0,0,0,0,0,0,0, 0,0,0,0,0,0,0,0.2,0,0, 0,0.2,0.3,0.4,0.2,0.3,0.2,0.5,0.3,0.2, 0.3,0.2,0.4,0.3,0.5,0.4,0.3,0.6,0.4,0.3, 0.5,0.6,0.4,0.3,0.6,0.8,0.5,0.6,1.0,3.0,10.2];
const PR_P46 = [1.0,0.3,0,0,0,0,0,0,0,0, 0,0,0,0,0,0.2,0,0,0,0, 0,0,0,0,0,0.2,0,0.3,0,0, 0,0.3,0.2,0.4,0.3,0.5,0.4,0.3,0.6,0.5, 0.4,0.6,0.5,0.8,0.6,0.4,0.8,1.0,1.5,0.6, 0.8,1.0,0.6,0.5,0.8,1.2,0.6,0.8,1.0,2.0,9.0];

const T850_MEMBERS = [["07",T850_P07],["03",T850_P03],["12",T850_P12],["20",T850_P20],["40",T850_P40],["19",T850_P19],["25",T850_P25],["06",T850_P06],["24",T850_P24],["02",T850_P02],["05",T850_P05],["13",T850_P13],["17",T850_P17],["30",T850_P30],["31",T850_P31],["33",T850_P33],["21",T850_P21],["18",T850_P18],["28",T850_P28],["42",T850_P42],["39",T850_P39]];
const T500_MEMBERS = [["25",T500_P25],["28",T500_P28],["20",T500_P20],["17",T500_P17],["16",T500_P16],["45",T500_P45],["22",T500_P22],["41",T500_P41],["44",T500_P44],["50",T500_P50],["43",T500_P43],["13",T500_P13],["08",T500_P08],["10",T500_P10],["23",T500_P23],["15",T500_P15]];
const PR_MEMBERS = [["02",PR_P02],["34",PR_P34],["32",PR_P32],["22",PR_P22],["12",PR_P12],["44",PR_P44],["27",PR_P27],["13",PR_P13],["37",PR_P37],["29",PR_P29],["21",PR_P21],["28",PR_P28],["06",PR_P06],["17",PR_P17],["47",PR_P47],["07",PR_P07],["20",PR_P20],["25",PR_P25],["43",PR_P43],["42",PR_P42],["11",PR_P11],["26",PR_P26],["14",PR_P14],["38",PR_P38],["40",PR_P40],["46",PR_P46]];

const MONO = "'DejaVu Sans Mono', 'Liberation Mono', monospace";
const PLUS = 'path://M1,0H2V1H3V2H2V3H1V2H0V1H1Z';
function colorOf(id){ return PALETTE[MEMBER_IDS.indexOf(id)]; }
function pts(arr){ return arr.map((v,i)=>[HOURS[i], v]); }
function member(arr, id, yIdx){
  return {type:'line', yAxisIndex:yIdx, data:pts(arr), z:2, silent:true, animation:false,
    symbol:PLUS, symbolSize:3, showSymbol:true, color:colorOf(id),
    lineStyle:{width:1, color:colorOf(id)}, itemStyle:{color:colorOf(id)}};
}
function main(arr, color, width, yIdx, z){
  return {type:'line', yAxisIndex:yIdx, data:pts(arr), z:z, silent:true, animation:false,
    symbol:'none', lineStyle:{width:width, color:color}};
}

const series = [];
// horizontal grid lines
const gridLines = [];
for (const v of Y_LEFT_TICKS) {
  if (v === 0) continue;
  gridLines.push({yAxis:v, lineStyle:{color:'#c0c0c0', width:(v % 10 === 0) ? 2 : 1, type:'solid'}});
}
gridLines.push({yAxis:0.1, lineStyle:{color:'#8a8a8a', width:3, type:'solid'}});
gridLines.push({yAxis:0.1, lineStyle:{color:'#c8c8c8', width:1, type:'solid'}});
series.push({type:'line', yAxisIndex:0, data:[], z:0, silent:true, animation:false,
  markLine:{symbol:'none', silent:true, animation:false, label:{show:false}, data:gridLines}});

T850_MEMBERS.forEach(([id,a]) => series.push(member(a,id,0)));
T500_MEMBERS.forEach(([id,a]) => series.push(member(a,id,0)));
PR_MEMBERS.forEach(([id,a]) => series.push(member(a,id,1)));

series.push(main(T850_CONTROL,'#0000ff',3,0,3));
series.push(main(T500_CONTROL,'#0000ff',3,0,3));
series.push(main(PR_CONTROL,'#0000ff',2,1,3));
series.push(main(T850_OPER,'#000000',3,0,4));
series.push(main(T500_OPER,'#000000',3,0,4));
series.push(main(PR_OPER,'#000000',3,1,4));
series.push(main(T850_MEAN,'#ff0000',4,0,5));
series.push(main(T500_MEAN,'#ff0000',4,0,5));
series.push(main(PR_MEAN,'#ff0000',4,1,5));

// legend / annotation graphics
const graphics = [];
function txt(x,y,s,opt){ graphics.push({type:'text', x:x, y:y, silent:true, z:10,
  style:Object.assign({text:s, fill:'#000', font:'10px '+MONO, textVerticalAlign:'middle'}, opt||{})}); }
txt(60,65,'Temp. 850hPa');
txt(60,258,'Temp. 500hPa');
txt(59,520,'Précipitations');
txt(19,607,'(°C)');
txt(712,607,'(mm)');
function bar(x1,x2,y,c){ graphics.push({type:'line', silent:true, shape:{x1:x1,y1:y,x2:x2,y2:y}, style:{stroke:c, lineWidth:4}}); }
bar(34,65,637,'#ff0000'); txt(74,637,'Moyenne des scénarios');
bar(225,256,637,'#0000ff'); txt(264,637,'Run de contrôle');
bar(225,256,647,'#000000'); txt(264,647,'Run CEP/ECMWF');
txt(370,652,'50 Perts.');
MEMBER_IDS.forEach((id,i)=>{
  const col = i % 25, row = Math.floor(i/25);
  const x = 431 + col*11.07;
  graphics.push({type:'rect', silent:true, shape:{x:x, y:row===0?645:651, width:10, height:6}, style:{fill:PALETTE[i]}});
  graphics.push({type:'text', silent:true, x:x+5, y:row===0?640:663,
    style:{text:id, fill:'#000', font:'8px '+MONO, textAlign:'center', textVerticalAlign:'middle'}});
});
graphics.push({type:'rect', silent:true, shape:{x:19.5, y:667.5, width:422, height:31}, style:{fill:'none', stroke:'#000', lineWidth:1}});
txt(28,677,'Diagramme ensembles ECMWF/CEP 0.4° sur 360h pour grenoble',{font:'bold 11.7px '+MONO});
txt(28,691.5,'Températures 850hPa et 500hPa (°C) , précipitations (mm)');
txt(450,675,'Ensemble ECMWF/CEP du 13/07/2023 - 00Z');
txt(450,691,'Copyright 2023 Meteociel.fr - ECMWF',{font:'bold 11.6px '+MONO});

const chart = echarts.init(document.getElementById('c'), null, {renderer:'canvas'});
chart.setOption({
  animation:false,
  backgroundColor:'#ffffff',
  grid:{left:50, right:48, top:21, bottom:100, containLabel:false},
  xAxis:{type:'value', min:0, max:360, interval:24,
    axisLine:{onZero:false, lineStyle:{color:'#000', width:1}},
    axisTick:{show:false},
    splitLine:{show:true, lineStyle:{color:'#c0c0c0', width:1}},
    axisLabel:{rotate:90, margin:4, align:'right', verticalAlign:'top', padding:[1,0,0,0],
      fontFamily:MONO, fontSize:10, color:'#000',
      formatter:(v)=>DAY_LABELS[Math.round(v/24)]}},
  yAxis:[
    {type:'value', position:'left', min:-52.8, max:30,
     axisLine:{show:true, onZero:false, lineStyle:{color:'#b8b8b8', width:1}},
     axisTick:{show:false}, splitLine:{show:false},
     axisLabel:{customValues:Y_LEFT_TICKS, align:'left', margin:31, padding:[4,0,0,0],
       fontFamily:MONO, fontSize:10, color:'#000'}},
    {type:'value', position:'right', min:-7.8, max:75,
     axisLine:{show:true, onZero:false, lineStyle:{color:'#b8b8b8', width:1}},
     axisTick:{show:false}, splitLine:{show:false},
     axisLabel:{customValues:Y_RIGHT_TICKS, align:'left', margin:17, padding:[3,0,0,0],
       fontFamily:"'Liberation Sans', Arial, sans-serif", fontSize:11, color:'#000'}}
  ],
  graphic:graphics,
  series:series
});
</script>
</body></html>
